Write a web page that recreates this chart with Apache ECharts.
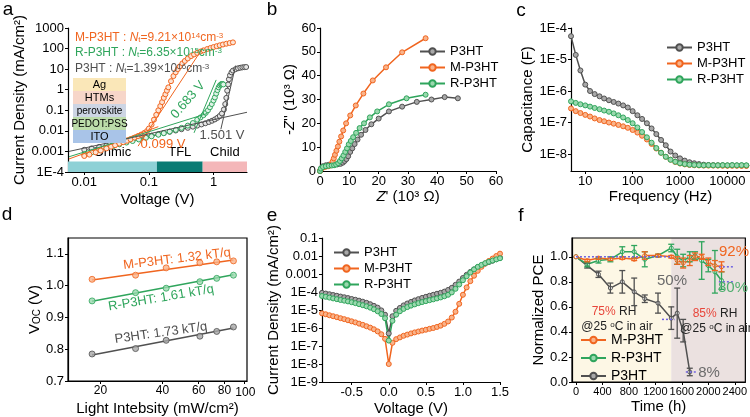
<!DOCTYPE html>
<html>
<head>
<meta charset="utf-8">
<script src="https://cdn.jsdelivr.net/npm/echarts@6/dist/echarts.min.js"></script>
<style>
  html, body { margin: 0; padding: 0; background: #fff; }
  #chart { width: 750px; height: 417px; }
</style>
</head>
<body>
<div id="chart"></div>
<script>
const FONT = '"Liberation Sans", Arial, sans-serif';
const GRAY = '#505050', ORANGE = '#f0651f', GREEN = '#2fa55c';
const GRAY_F = '#a8a8a8', ORANGE_F = '#f9b38a', GREEN_F = '#9ad8ae';

// ---- panel a: J-V (SCLC) ----
const aXMin = 0.0056, aXMax = 3.3;
const aV_M = [0.01,0.012,0.015,0.018,0.022,0.026,0.03,0.035,0.04,0.046,0.052,0.06,0.068,0.076,0.085,0.094,0.1,0.11,0.12,0.13,0.14,0.15,0.16,0.17,0.18,0.19,0.2,0.22,0.24,0.26,0.28,0.3,0.33,0.36,0.4,0.45,0.5,0.56,0.63,0.7,0.8,0.9,1.0,1.12,1.25,1.4,1.58,1.78,2.0];
const aJ_M = [6e-4,7e-4,9e-4,1.1e-3,1.4e-3,1.7e-3,2e-3,2.4e-3,2.8e-3,3.3e-3,3.9e-3,4.7e-3,5.6e-3,6.6e-3,8e-3,1e-2,0.013,0.02,0.035,0.06,0.1,0.16,0.25,0.4,0.6,0.9,1.3,2.6,4.6,7,10,13.5,19,25,33,43,52,62,72,82,95,107,118,131,144,158,172,186,200];
const aV_R = [0.01,0.013,0.017,0.022,0.028,0.035,0.045,0.056,0.07,0.09,0.11,0.14,0.17,0.21,0.26,0.32,0.4,0.48,0.56,0.63,0.7,0.76,0.82,0.88,0.94,1.0,1.05,1.1,1.15,1.2,1.25,1.3,1.34,1.38,1.42];
const aJ_R = [7e-4,9e-4,1.15e-3,1.45e-3,1.8e-3,2.2e-3,2.7e-3,3.2e-3,3.8e-3,4.6e-3,5.4e-3,6.5e-3,7.7e-3,9.3e-3,1.12e-2,1.4e-2,1.8e-2,2.4e-2,3.5e-2,4.5e-2,5.8e-2,7.5e-2,0.1,0.14,0.2,0.3,0.42,0.65,0.95,1.3,1.6,1.8,1.9,1.9,1.8];
const aV_P = [0.01,0.013,0.017,0.022,0.028,0.035,0.045,0.056,0.07,0.09,0.11,0.14,0.17,0.21,0.26,0.32,0.4,0.48,0.56,0.65,0.75,0.85,0.95,1.05,1.15,1.25,1.35,1.45,1.52,1.58,1.63,1.68,1.73,1.8,1.9,2.0,2.2,2.4,2.6,2.8,3.0,3.2];
const aJ_P = [1.2e-3,1.4e-3,1.65e-3,1.95e-3,2.3e-3,2.65e-3,3.1e-3,3.6e-3,4.2e-3,5e-3,5.8e-3,6.8e-3,7.8e-3,9e-3,1.04e-2,1.2e-2,1.4e-2,1.6e-2,1.8e-2,2.05e-2,2.35e-2,2.7e-2,3.1e-2,3.6e-2,4.3e-2,5.3e-2,7e-2,0.11,0.2,0.4,0.9,1.8,3.2,5,7,8.5,10,11,11.7,12.2,12.5,12.7];
const aFitM1 = [[0.0058, 4.3e-4], [0.14, 0.016]];
const aFitM2 = [[0.068, 1.8e-3], [0.68, 105]];
const aFitR1 = [[0.0058, 5.5e-4], [0.8, 0.07]];
const aFitR2 = [[0.5, 0.008], [1.1, 3]];
const aFitP1 = [[0.0058, 1.0e-3], [3.3, 0.08]];
const aFitP2 = [[1.3, 0.012], [2.2, 15]];
const aRegions = ['Ohmic', 'TFL', 'Child'];
const aRegionEdges = [0.0056, 0.133, 0.68, 3.3];
const aRegionColors = ['#8ed1d6', '#0b7b74', '#f4b7b9'];
const aStripY = [1e-4, 3.2e-4];
const aLayers = ['Ag', 'HTMs', 'perovskite', 'PEDOT:PSS', 'ITO'];
const aLayerColors = ['#fae7b8', '#f7d6c9', '#cdd5e4', '#bcdcaa', '#a9c4e8'];

// ---- panel b: Nyquist ----
const bX_P = [0,0.4,1,2,3,4,5,6,7,7.8,8.4,9,9.6,10.3,11,11.8,12.8,14,15.5,17.5,20,23.5,28,33,38,42.5,47];
const bY_P = [0,1.2,2,2.4,2.6,2.6,2.7,2.8,3,3.5,4.2,5,6.2,8,9.5,11.3,13.2,15.2,17.2,19.6,22,25,27,29,30,31,30.5];
const bX_M = [0,0.1,0.5,1.2,2,2.8,3.4,3.9,4.3,4.7,5.1,5.6,6.1,6.6,7.2,7.9,8.9,10.3,12.2,14.8,18,22.5,28,36];
const bY_M = [0,0.3,1,1.5,1.8,2,2.3,3,4,5.3,6.8,8.5,10.3,12.3,14.5,17,20,23.3,27.5,32.5,38,43.5,49.8,55.7];
const bX_R = [0,0.3,1,2,3,4,4.8,5.5,6.2,6.8,7.4,8,8.6,9.2,9.8,10.5,11.3,12.3,13.5,15,17,19.5,23.5,29.5,36];
const bY_R = [0,1,1.7,2,2.2,2.3,2.4,2.7,3.3,4.2,5.3,6.5,8,9.5,11.2,12.6,14.2,16,18,20,22.5,25,28,30.5,32];

// ---- panel c: C-f ----
const cFreq = [5,6.3,7.9,10,12.6,15.8,20,25,31.6,39.8,50,63,79,100,126,158,200,251,316,398,501,631,794,1000,1259,1585,1995,2512,3162,3981,5012,6310,7943,10000,12589,15849,19953,25119];
const cC_P = [5.5e-5,1.4e-5,4.5e-6,1.6e-6,1.0e-6,8e-7,6.8e-7,5.8e-7,5.1e-7,4.5e-7,4.0e-7,3.5e-7,3.0e-7,2.3e-7,1.7e-7,1.3e-7,9.5e-8,6.5e-8,4.3e-8,2.8e-8,1.9e-8,1.2e-8,9e-9,7.3e-9,6.2e-9,5.5e-9,5.1e-9,4.8e-9,4.6e-9,4.5e-9,4.45e-9,4.4e-9,4.4e-9,4.35e-9,4.4e-9,4.35e-9,4.35e-9,4.3e-9];
const cC_M = [2.8e-7,2.3e-7,2.0e-7,1.75e-7,1.55e-7,1.35e-7,1.2e-7,1.1e-7,1.0e-7,9.2e-8,8.4e-8,7.6e-8,6.8e-8,5.8e-8,4.8e-8,3.8e-8,2.9e-8,2.1e-8,1.5e-8,1.1e-8,8.2e-9,6.6e-9,5.6e-9,5.0e-9,4.7e-9,4.5e-9,4.4e-9,4.35e-9,4.3e-9,4.3e-9,4.3e-9,4.3e-9,4.25e-9,4.25e-9,4.25e-9,4.25e-9,4.2e-9,4.2e-9];
const cC_R = [4.7e-7,4.2e-7,3.8e-7,3.5e-7,3.2e-7,2.9e-7,2.65e-7,2.4e-7,2.2e-7,1.95e-7,1.7e-7,1.45e-7,1.2e-7,9.5e-8,7e-8,5e-8,3.4e-8,2.3e-8,1.55e-8,1.1e-8,8.2e-9,6.6e-9,5.7e-9,5.1e-9,4.8e-9,4.6e-9,4.5e-9,4.45e-9,4.4e-9,4.45e-9,4.4e-9,4.4e-9,4.45e-9,4.4e-9,4.45e-9,4.4e-9,4.45e-9,4.4e-9];

// ---- panel d: Voc vs light intensity ----
const dXMin = 13.9, dXMax = 103;
const dI = [18.2, 29.6, 41.7, 60.8, 73.4, 88.5];
const dV_M = [1.02, 1.033, 1.056, 1.072, 1.075, 1.078];
const dV_R = [0.952, 0.978, 0.992, 1.0125, 1.023, 1.033];
const dV_P = [0.785, 0.802, 0.828, 0.841, 0.856, 0.870];
const dFitM = [[18.2, 1.018], [88.5, 1.081]];
const dFitR = [[18.2, 0.951], [88.5, 1.034]];
const dFitP = [[18.2, 0.782], [88.5, 0.867]];
const dTicks = [20, 40, 60, 80, 100];
const dTicksLow = [20, 40, 60, 80];
const dTickLast = 100;

// ---- panel e: dark J-V ----
const eV = [-0.9,-0.85,-0.8,-0.75,-0.7,-0.65,-0.6,-0.55,-0.5,-0.45,-0.4,-0.35,-0.3,-0.25,-0.2,-0.15,-0.1,-0.05,0,0.05,0.1,0.15,0.2,0.25,0.3,0.35,0.4,0.45,0.5,0.55,0.6,0.65,0.7,0.75,0.8,0.85,0.9,0.95,1.0,1.05,1.1,1.15,1.2,1.25,1.3,1.35,1.4,1.45,1.5];
const eJ_P = [9.0e-5,8.2e-5,7.5e-5,6.8e-5,6.2e-5,5.6e-5,5.1e-5,4.6e-5,4.1e-5,3.7e-5,3.3e-5,2.9e-5,2.5e-5,2.1e-5,1.7e-5,1.35e-5,9.5e-6,5.5e-6,5e-7,4.5e-6,9e-6,1.3e-5,1.8e-5,2.3e-5,2.8e-5,3.4e-5,4e-5,4.7e-5,5.4e-5,6.2e-5,7e-5,8e-5,9e-5,1.05e-4,1.3e-4,1.7e-4,2.5e-4,3.8e-4,6e-4,9e-4,1.3e-3,1.8e-3,2.4e-3,3e-3,3.8e-3,4.6e-3,5.5e-3,6.6e-3,8e-3];
const eJ_M = [6.5e-6,5.8e-6,5.1e-6,4.5e-6,4.0e-6,3.5e-6,3.1e-6,2.7e-6,2.35e-6,2.05e-6,1.75e-6,1.5e-6,1.25e-6,1.05e-6,8.5e-7,6.5e-7,4.5e-7,2.5e-7,1e-8,1.5e-7,2.4e-7,3e-7,3.7e-7,4.3e-7,5e-7,5.7e-7,6.4e-7,7.2e-7,8e-7,9e-7,1.0e-6,1.15e-6,1.35e-6,1.7e-6,2.3e-6,3.8e-6,8e-6,2.2e-5,7e-5,1.8e-4,4e-4,8e-4,1.5e-3,2.5e-3,3.8e-3,5.3e-3,7.2e-3,1e-2,1.35e-2];
const eJ_R = [6.0e-5,5.4e-5,4.9e-5,4.4e-5,4.0e-5,3.6e-5,3.3e-5,3.0e-5,2.7e-5,2.4e-5,2.1e-5,1.85e-5,1.6e-5,1.35e-5,1.1e-5,8.5e-6,6e-6,3.5e-6,2e-7,2.5e-6,5.5e-6,8.5e-6,1.15e-5,1.45e-5,1.75e-5,2.05e-5,2.4e-5,2.75e-5,3.1e-5,3.5e-5,3.9e-5,4.4e-5,5e-5,5.8e-5,7e-5,9.5e-5,1.5e-4,2.6e-4,4.5e-4,7.5e-4,1.2e-3,1.8e-3,2.5e-3,3.2e-3,4e-3,4.8e-3,5.6e-3,6.5e-3,7.5e-3];

// ---- panel f: stability ----
const fXMin = -60, fXMax = 2560, fSplit = 1440;
const fTicks = [0, 400, 800, 1200, 1600, 2000, 2400];
const fT_P = [0,170,340,520,700,880,1040,1240,1440,1530,1620,1720];
const fY_P = [1.0,0.93,0.86,0.75,0.80,0.72,0.665,0.63,0.51,0.55,0.41,0.08];
const fE_P = [0,0.02,0.025,0.04,0.09,0.11,0.03,0.08,0.09,0.2,0.09,0.03];
const fT = [0,170,340,520,700,880,1040,1240,1440,1530,1620,1720,1800,1900,2000,2100,2200];
const fY_M = [1.0,0.97,0.99,0.98,0.99,0.98,1.01,1.01,1.0,0.97,0.95,0.97,1.0,1.0,0.96,0.93,0.92];
const fE_M = [0,0.01,0.01,0.01,0.01,0.01,0.03,0.01,0.01,0.03,0.04,0.04,0.03,0.02,0.03,0.04,0.04];
const fY_R = [1.0,0.94,0.97,0.98,1.04,1.04,0.98,1.01,1.07,1.0,0.97,1.0,1.01,0.97,0.93,0.88,0.81];
const fE_R = [0,0.02,0.02,0.02,0.04,0.05,0.06,0.01,0.03,0.06,0.05,0.04,0.03,0.15,0.05,0.17,0.07];
const fRef100 = [[0, 1], [1440, 1]];
const fRef50 = [[1300, 0.5], [1490, 0.5]];
const fRef92 = [[2160, 0.92], [2400, 0.92]];
const fRef80 = [[2160, 0.8], [2400, 0.8]];
const fRef8 = [[1660, 0.08], [1840, 0.08]];

const zip = (xs, ys) => xs.map((x, i) => [x, ys[i]]);
const zip3 = (xs, ys, es) => xs.map((x, i) => [x, ys[i], es[i]]);

function logLab(v) {
  const e = Math.round(Math.log10(v));
  if (e < -3) return '1E' + e;
  return e >= 0 ? String(Math.round(Math.pow(10, e))) : Math.pow(10, e).toFixed(-e);
}
const eLab = v => '1E' + Math.round(Math.log10(v));

const AXL = { show: true, onZero: false, lineStyle: { color: '#000', width: 1.2 } };
const TICK = { show: true, length: 3, lineStyle: { color: '#000', width: 1 } };
const LAB = { color: '#000', fontSize: 13, margin: 4, fontFamily: FONT, hideOverlap: false };
const NAME = { color: '#000', fontSize: 15, fontFamily: FONT };

function axis(gi, type, extra, label, tick) {
  return Object.assign({
    gridIndex: gi, type: type, nameLocation: 'middle', nameTextStyle: NAME,
    axisLine: AXL, axisTick: Object.assign({}, TICK, tick || {}), splitLine: { show: false },
    axisLabel: Object.assign({}, LAB, label || {})
  }, extra);
}

function lineSeries(name, xi, data, color, fill, extra) {
  return Object.assign({
    name: name, type: 'line', xAxisIndex: xi, yAxisIndex: xi, data: data,
    symbol: 'circle', symbolSize: 5, z: 2, showAllSymbol: true,
    lineStyle: { color: color, width: 1.5 },
    itemStyle: { color: fill, borderColor: color, borderWidth: 1 },
    emphasis: { disabled: true }, animation: false
  }, extra || {});
}

function fitSeries(xi, data, color, width) {
  return {
    name: 'fit', type: 'line', xAxisIndex: xi, yAxisIndex: xi, data: data,
    showSymbol: false, symbol: 'none', z: 4, silent: true,
    lineStyle: { color: color, width: width || 1 }, animation: false
  };
}

function refSeries(data) {
  return {
    name: 'ref', type: 'line', xAxisIndex: 5, yAxisIndex: 5, data: data,
    symbol: 'none', z: 3, silent: true,
    lineStyle: { color: '#6f62e0', width: 1.5, type: [2, 2] }, animation: false
  };
}

function errSeries(name, data, color) {
  return {
    name: name, type: 'custom', xAxisIndex: 5, yAxisIndex: 5, data: data, z: 3,
    silent: true, animation: false,
    renderItem: function (params, api) {
      const x = api.value(0), y = api.value(1), e = api.value(2);
      if (!e) return null;
      const t = api.coord([x, y + e]), b = api.coord([x, y - e]);
      const st = { stroke: color, lineWidth: 1.3 };
      return { type: 'group', children: [
        { type: 'line', shape: { x1: t[0], y1: t[1], x2: b[0], y2: b[1] }, style: st },
        { type: 'line', shape: { x1: t[0] - 3, y1: t[1], x2: t[0] + 3, y2: t[1] }, style: st },
        { type: 'line', shape: { x1: b[0] - 3, y1: b[1], x2: b[0] + 3, y2: b[1] }, style: st }
      ] };
    }
  };
}

const f12 = '12px ' + FONT;
function richNt(color) {
  return {
    i: { font: 'italic 12px ' + FONT, fill: color },
    s: { font: '8px ' + FONT, fill: color, verticalAlign: 'bottom' },
    p: { font: '8px ' + FONT, fill: color, verticalAlign: 'top' }
  };
}
function txt(x, y, text, color, size, extra) {
  return Object.assign({
    type: 'text', x: x, y: y, silent: true, z: 20,
    style: { text: text, fill: color, font: (size || 12) + 'px ' + FONT, align: 'center', verticalAlign: 'middle' }
  }, extra || {});
}
function richTxt(x, y, text, rich) {
  return { type: 'text', x: x, y: y, silent: true, z: 20,
    style: { text: text, fill: '#222', font: f12, align: 'center', verticalAlign: 'middle', rich: rich } };
}

const gridD = { left: 68, top: 238, width: 179, height: 144 };

const graphics = [];
[['a', 8, 10], ['b', 272, 10], ['c', 521, 11], ['d', 7, 215], ['e', 272, 216], ['f', 521, 216]].forEach(p => {
  graphics.push(txt(p[1], p[2], p[0], '#000', 19));
});
// panel a stack inset
aLayers.forEach((name, i) => {
  graphics.push({ type: 'rect', silent: true, z: 10, shape: { x: 73, y: 78 + i * 13, width: 53, height: 13 }, style: { fill: aLayerColors[i] } });
  graphics.push(txt(99.5, 78 + i * 13 + 7, name, '#000', name.length > 6 ? 10 : 11));
});
graphics.push({ type: 'text', x: 75, y: 38, silent: true, z: 20, style: { text: 'M-P3HT : {i|N}{s|t}=9.21×10{p|14}cm{p|-3}', fill: ORANGE, font: f12, verticalAlign: 'middle', rich: richNt(ORANGE) } });
graphics.push({ type: 'text', x: 75, y: 53, silent: true, z: 20, style: { text: 'R-P3HT : {i|N}{s|t}=6.35×10{p|15}cm{p|-3}', fill: GREEN, font: f12, verticalAlign: 'middle', rich: richNt(GREEN) } });
graphics.push({ type: 'text', x: 75, y: 69, silent: true, z: 20, style: { text: 'P3HT : {i|N}{s|t}=1.39×10{p|16}cm{p|-3}', fill: GRAY, font: f12, verticalAlign: 'middle', rich: richNt(GRAY) } });
graphics.push(txt(188, 100, '0.683 V', GREEN, 13, { rotation: 0.85 }));
graphics.push(txt(222, 135, '1.501 V', GRAY, 13));
graphics.push(txt(163, 144, '0.099 V', ORANGE, 13));
// panel d labels
graphics.push(txt(177, 259, 'M-P3HT: 1.32 kT/q', ORANGE, 13, { rotation: 0.12 }));
graphics.push(txt(161, 298, 'R-P3HT: 1.61 kT/q', GREEN, 13, { rotation: 0.17 }));
graphics.push(txt(161, 333, 'P3HT: 1.73 kT/q', GRAY, 13, { rotation: 0.14 }));
// crowded last tick label "100" of panel d, placed on the same log scale as the axis
const dLogFrac = (Math.log10(dTickLast) - Math.log10(dXMin)) / (Math.log10(dXMax) - Math.log10(dXMin));
graphics.push({ type: 'text', x: gridD.left + gridD.width * dLogFrac + 1, y: gridD.top + gridD.height + 11, silent: true, z: 100, zlevel: 1,
  style: { text: String(dTickLast), fill: '#000', font: '12px ' + FONT, align: 'center', verticalAlign: 'middle' } });
// panel f labels
const richF = { r: { fill: '#e8463b', font: '12px ' + FONT }, p: { font: '8px ' + FONT, fill: '#222', verticalAlign: 'top' } };
graphics.push(richTxt(614, 312, '{r|75%} RH', richF));
graphics.push(richTxt(617, 327, '@25 {p|o}C in air', richF));
graphics.push(richTxt(715, 314, '{r|85%} RH', richF));
graphics.push(richTxt(716, 329, '@25 {p|o}C in air', richF));
graphics.push(txt(672, 281, '50%', '#6b6b6b', 15));
graphics.push(txt(734, 252, '92%', ORANGE, 15));
graphics.push(txt(733, 288, '80%', '#4fae6e', 15));
graphics.push(txt(709, 373, '8%', '#6b6b6b', 15));

const legendBase = {
  orient: 'vertical', itemWidth: 25, itemHeight: 8, itemGap: 3,
  textStyle: { color: '#000', fontSize: 13, fontFamily: FONT }, selectedMode: false
};

const option = {
  animation: false,
  textStyle: { fontFamily: FONT },
  grid: [
    { left: 68, top: 28, width: 179, height: 144 },
    { left: 320, top: 28, width: 176, height: 143 },
    { left: 571, top: 28, width: 179, height: 143 },
    Object.assign({ show: true, borderColor: '#000', borderWidth: 1.2, z: 5 }, gridD),
    { left: 322, top: 238, width: 178, height: 144 },
    { left: 572, top: 238, width: 176, height: 144, show: true, borderColor: '#000', borderWidth: 1.2, z: 5 }
  ],
  xAxis: [
    axis(0, 'log', { min: aXMin, max: aXMax, name: 'Voltage (V)', nameGap: 20 }, { formatter: logLab, showMinLabel: false, showMaxLabel: false }),
    axis(1, 'value', { min: 0, max: 60, interval: 10, name: "{i|Z}' (10³ Ω)", nameGap: 18, nameTextStyle: Object.assign({}, NAME, { rich: { i: { fontStyle: 'italic', fontSize: 15, color: '#000' } } }) }),
    axis(2, 'log', { min: 5, max: 30000, name: 'Frequency (Hz)', nameGap: 18 }, { formatter: v => String(Math.round(v)), showMinLabel: false, showMaxLabel: false }),
    axis(3, 'log', { min: dXMin, max: dXMax, name: 'Light Intebsity (mW/cm²)', nameGap: 20 }, { customValues: dTicksLow, formatter: v => String(Math.round(v)), fontSize: 12 }, { customValues: dTicks }),
    axis(4, 'value', { min: -0.9, max: 1.5, name: 'Voltage (V)', nameGap: 19 }, { formatter: v => v.toFixed(1), showMinLabel: false }),
    axis(5, 'value', { min: fXMin, max: fXMax, name: 'Time (h)', nameGap: 17, z: 6 }, { customValues: fTicks, formatter: v => String(v), fontSize: 11 }, { customValues: fTicks })
  ],
  yAxis: [
    axis(0, 'log', { min: 1e-4, max: 1000, name: 'Current Density (mA/cm²)', nameGap: 38 }, { formatter: logLab }),
    axis(1, 'value', { min: 0, max: 60, interval: 10, name: "-{i|Z}'' (10³ Ω)", nameGap: 20, nameTextStyle: Object.assign({}, NAME, { rich: { i: { fontStyle: 'italic', fontSize: 15, color: '#000' } } }) }),
    axis(2, 'log', { min: 2.9e-9, max: 1e-4, name: 'Capacitance (F)', nameGap: 34 }, { formatter: eLab, showMinLabel: false }),
    axis(3, 'value', { min: 0.7, max: 1.15, interval: 0.1, name: 'V{s|OC} (V)', nameGap: 24, nameTextStyle: Object.assign({}, NAME, { rich: { s: { fontSize: 10, verticalAlign: 'bottom', color: '#000' } } }) }, { formatter: v => v.toFixed(1), showMaxLabel: false }),
    axis(4, 'log', { min: 1e-9, max: 0.1, name: 'Current Density (mA/cm²)', nameGap: 40 }, { formatter: logLab }),
    axis(5, 'value', { min: 0, max: 1.15, interval: 0.2, name: 'Normalized PCE', nameGap: 22, z: 6 }, { formatter: v => v.toFixed(1), showMaxLabel: false })
  ],
  legend: [
    Object.assign({}, legendBase, { data: ['P3HT', 'M-P3HT', 'R-P3HT'], left: 414, top: 40 }),
    Object.assign({}, legendBase, { data: ['P3HT', 'M-P3HT', 'R-P3HT'], left: 661, top: 36 }),
    Object.assign({}, legendBase, { data: ['P3HT', 'M-P3HT', 'R-P3HT'], left: 328, top: 241 }),
    Object.assign({}, legendBase, { data: ['M-P3HT', 'R-P3HT', 'P3HT'], left: 575, top: 328, itemGap: 4, textStyle: { color: '#000', fontSize: 14, fontFamily: FONT } })
  ],
  graphic: graphics,
  series: [
    // a
    lineSeries('a P3HT', 0, zip(aV_P, aJ_P), GRAY, '#e6e6e6', { lineStyle: { color: GRAY, width: 1 },
      markArea: { silent: true, label: { position: 'top', distance: 3, color: '#000', fontSize: 13, fontFamily: FONT },
        data: aRegions.map((r, i) => [{ name: r, xAxis: aRegionEdges[i], yAxis: aStripY[0], itemStyle: { color: aRegionColors[i] } }, { xAxis: aRegionEdges[i + 1], yAxis: aStripY[1] }]) } }),
    lineSeries('a R-P3HT', 0, zip(aV_R, aJ_R), GREEN, '#dff3e6', { lineStyle: { color: GREEN, width: 1 } }),
    lineSeries('a M-P3HT', 0, zip(aV_M, aJ_M), ORANGE, '#fde3d3', { lineStyle: { color: ORANGE, width: 1 } }),
    fitSeries(0, aFitM1, ORANGE), fitSeries(0, aFitM2, ORANGE),
    fitSeries(0, aFitR1, GREEN), fitSeries(0, aFitR2, GREEN),
    fitSeries(0, aFitP1, GRAY), fitSeries(0, aFitP2, GRAY),
    // b
    lineSeries('P3HT', 1, zip(bX_P, bY_P), GRAY, GRAY_F),
    lineSeries('M-P3HT', 1, zip(bX_M, bY_M), ORANGE, ORANGE_F),
    lineSeries('R-P3HT', 1, zip(bX_R, bY_R), GREEN, GREEN_F),
    // c
    lineSeries('c P3HT', 2, zip(cFreq, cC_P), GRAY, GRAY_F),
    lineSeries('c M-P3HT', 2, zip(cFreq, cC_M), ORANGE, ORANGE_F),
    lineSeries('c R-P3HT', 2, zip(cFreq, cC_R), GREEN, GREEN_F),
    // d
    fitSeries(3, dFitM, ORANGE, 1.5), fitSeries(3, dFitR, GREEN, 1.5), fitSeries(3, dFitP, GRAY, 1.5),
    { name: 'd M', type: 'scatter', xAxisIndex: 3, yAxisIndex: 3, data: zip(dI, dV_M), symbolSize: 6, z: 5, itemStyle: { color: ORANGE_F, borderColor: ORANGE, borderWidth: 1 } },
    { name: 'd R', type: 'scatter', xAxisIndex: 3, yAxisIndex: 3, data: zip(dI, dV_R), symbolSize: 6, z: 5, itemStyle: { color: GREEN_F, borderColor: GREEN, borderWidth: 1 } },
    { name: 'd P', type: 'scatter', xAxisIndex: 3, yAxisIndex: 3, data: zip(dI, dV_P), symbolSize: 6, z: 5, itemStyle: { color: GRAY_F, borderColor: GRAY, borderWidth: 1 } },
    // e
    lineSeries('e P3HT', 4, zip(eV, eJ_P), GRAY, GRAY_F),
    lineSeries('e M-P3HT', 4, zip(eV, eJ_M), ORANGE, ORANGE_F),
    lineSeries('e R-P3HT', 4, zip(eV, eJ_R), GREEN, GREEN_F),
    // f
    lineSeries('f P3HT', 5, zip(fT_P, fY_P), GRAY, '#fff', { symbolSize: 4,
      markArea: { silent: true, data: [
        [{ xAxis: fXMin, itemStyle: { color: '#fdf7e5' } }, { xAxis: fSplit }],
        [{ xAxis: fSplit, itemStyle: { color: '#ebe1e0' } }, { xAxis: fXMax }]
      ] } }),
    lineSeries('f R-P3HT', 5, zip(fT, fY_R), GREEN, '#fff', { symbolSize: 4 }),
    lineSeries('f M-P3HT', 5, zip(fT, fY_M), ORANGE, '#fff', { symbolSize: 4 }),
    errSeries('err P', zip3(fT_P, fY_P, fE_P), GRAY),
    errSeries('err R', zip3(fT, fY_R, fE_R), GREEN),
    errSeries('err M', zip3(fT, fY_M, fE_M), ORANGE),
    refSeries(fRef100), refSeries(fRef50), refSeries(fRef92), refSeries(fRef80), refSeries(fRef8)
  ]
};

const chart = echarts.init(document.getElementById('chart'), null, { renderer: 'canvas' });
chart.setOption(option);
</script>
</body>
</html>
